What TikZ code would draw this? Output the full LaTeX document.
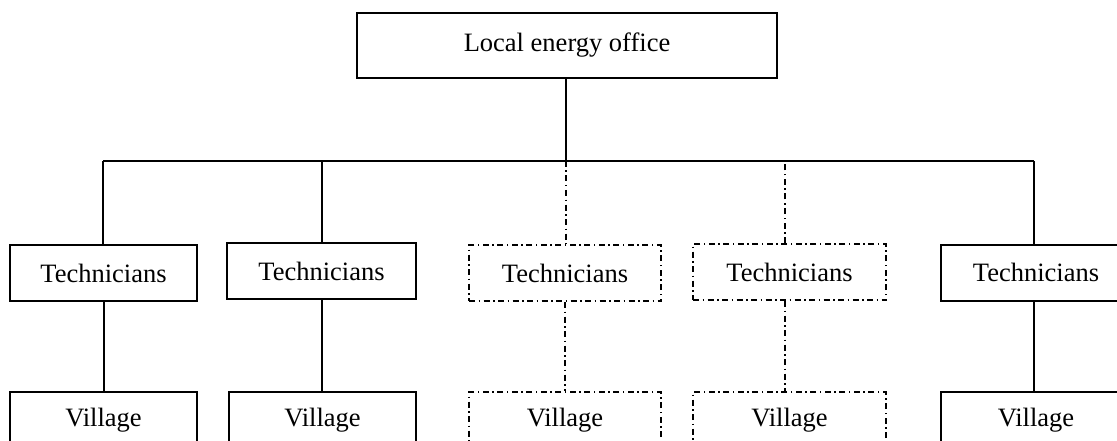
\documentclass[tikz,border=0pt]{standalone}
\usepackage{fontspec}
\setmainfont{Liberation Serif}
\begin{document}
\begin{tikzpicture}[x=1pt,y=-1pt,
  every node/.style={font=\fontsize{26.5}{30}\selectfont},
  box/.style={draw,line width=2pt,inner sep=0pt,minimum height=56pt},
  dbox/.style={box,dash pattern=on 6pt off 3.5pt on 1.5pt off 3.5pt},
  conn/.style={line width=2pt},
  dconn/.style={conn,dash pattern=on 6pt off 3.5pt on 1.5pt off 3.5pt}]
\useasboundingbox (0,0) rectangle (1117,441);
\clip (0,0) rectangle (1117,441);
\node[box,minimum width=420pt,minimum height=65pt] (top) at (567,45.5) {\raisebox{5pt}{Local energy office}};
\node[box,minimum width=187pt] (t1) at (103.5,273) {Technicians};
\node[box,minimum width=189pt] (t2) at (321.5,271) {Technicians};
\node[dbox,minimum width=192pt] (t3) at (565,273) {Technicians};
\node[dbox,minimum width=193pt] (t4) at (789.5,272) {Technicians};
\node[box,minimum width=190pt] (t5) at (1036,272.5) {Technicians};
\node[box,minimum width=187pt] (v1) at (103.5,420) {\raisebox{-2pt}{Village}};
\node[box,minimum width=187pt] (v2) at (322.5,420) {\raisebox{-2pt}{Village}};
\node[dbox,minimum width=192pt] (v3) at (565,420) {\raisebox{-2pt}{Village}};
\node[dbox,minimum width=193pt] (v4) at (789.5,420) {\raisebox{-2pt}{Village}};
\node[box,minimum width=190pt] (v5) at (1036,420) {\raisebox{-2pt}{Village}};
\coordinate (bl) at (103,161);
\coordinate (br) at (1034,161);
\coordinate (bm) at (566,161);
\draw[conn] (top.south -| bm) -- (bm);
\draw[conn] (bl) -- (br);
\draw[conn] (bl) -- (bl |- t1.north);
\draw[conn] (t2.north) -- (t2.north |- bl);
\draw[dconn] (bm) -- (bm |- t3.north);
\draw[dconn] ([xshift=-4.5pt]t4.north) -- ([xshift=-4.5pt]t4.north |- bl);
\draw[conn] (br) -- (br |- t5.north);
\draw[conn] (t1.south) -- (v1.north);
\draw[conn] (t2.south) -- (t2.south |- v2.north);
\draw[dconn] (t3.south) -- (v3.north);
\draw[dconn] ([xshift=-4.5pt]t4.south) -- ([xshift=-4.5pt]v4.north);
\draw[conn] ([xshift=-2pt]t5.south) -- ([xshift=-2pt]v5.north);
\end{tikzpicture}
\end{document}
